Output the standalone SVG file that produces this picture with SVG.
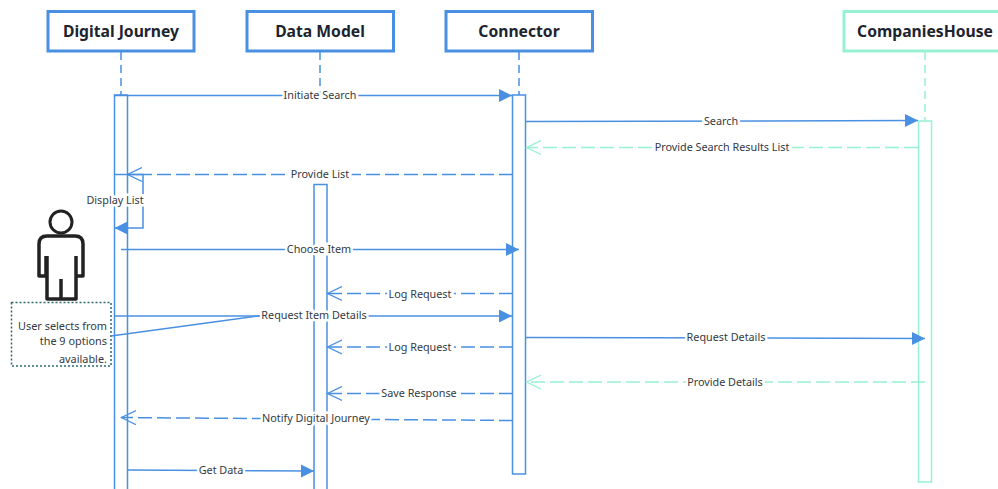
<svg xmlns="http://www.w3.org/2000/svg" width="998" height="489" viewBox="0 0 998 489">
<style>
.hb{fill:#fff;stroke:#4a90e2;stroke-width:3}
.hg{fill:#fff;stroke:#97f1d3;stroke-width:3}
.ht{font:bold 15.7px "Noto Sans","Open Sans","Liberation Sans",sans-serif;fill:#1c2430;text-anchor:middle}
.ll{fill:none;stroke:#4a90e2;stroke-width:1.5;stroke-dasharray:8 5}
.lg{fill:none;stroke:#97f1d3;stroke-width:1.5;stroke-dasharray:8 5}
.ab{fill:#fff;stroke:#4a90e2;stroke-width:1.5}
.ag{fill:#fff;stroke:#97f1d3;stroke-width:1.5}
.cs{fill:none;stroke:#4a90e2;stroke-width:1.5}
.cd{fill:none;stroke:#4a90e2;stroke-width:1.5;stroke-dasharray:14 5}
.cg{fill:none;stroke:#97f1d3;stroke-width:1.5;stroke-dasharray:14 5}
.f{marker-end:url(#fb)}
.o{marker-end:url(#ob)}
.og{marker-end:url(#og)}
.lb{font:10.8px "Noto Sans","Open Sans","Liberation Sans",sans-serif;fill:#333a44;text-anchor:middle;paint-order:stroke;stroke:#fff;stroke-width:5px}
.nt{font:10.9px "Noto Sans","Open Sans","Liberation Sans",sans-serif;fill:#333a44;text-anchor:end}
</style>
<defs>
<marker id="fb" markerUnits="userSpaceOnUse" markerWidth="14" markerHeight="14" refX="13" refY="7" orient="auto"><path d="M0 0.5L13 7L0 13.5Z" fill="#4a90e2"/></marker>
<marker id="ob" markerUnits="userSpaceOnUse" markerWidth="16" markerHeight="16" refX="15" refY="8" orient="auto"><path d="M0 1L14.500 8L0 15" fill="none" stroke="#4a90e2" stroke-width="1.3"/></marker>
<marker id="og" markerUnits="userSpaceOnUse" markerWidth="16" markerHeight="16" refX="15" refY="8" orient="auto"><path d="M0 1L14.500 8L0 15" fill="none" stroke="#97f1d3" stroke-width="1.3"/></marker>
</defs>
<rect width="998" height="489" fill="#fff"/>
<g id="node-digital-journey">
<path class="ll" d="M121 52V95"/>
<rect class="hb" x="48" y="11.500" width="146" height="39.500"/>
<text class="ht" x="121" y="37">Digital Journey</text>
<rect class="ab" x="114.500" y="95" width="13" height="396"/>
</g>
<g id="node-data-model">
<path class="ll" d="M320 52V95"/>
<rect class="hb" x="247" y="11.500" width="146.500" height="39.500"/>
<text class="ht" x="320" y="37">Data Model</text>
<rect class="ab" x="314" y="184.500" width="13" height="306"/>
</g>
<g id="node-connector">
<path class="ll" d="M519 52V95"/>
<rect class="hb" x="446" y="11.500" width="146.500" height="39.500"/>
<text class="ht" x="519" y="37">Connector</text>
<rect class="ab" x="512.500" y="95" width="13" height="379"/>
</g>
<g id="node-companies-house">
<path class="lg" d="M925 52V121"/>
<rect class="hg" x="844" y="11.500" width="160" height="39.500"/>
<text class="ht" x="925" y="37">CompaniesHouse</text>
<rect class="ag" x="918.500" y="121" width="13" height="361"/>
</g>
<g id="node-user">
<circle cx="61" cy="222" r="11" fill="#fff" stroke="#222" stroke-width="3"/>
<path d="M47 236H75Q83 236 83 244V276H76V256M76 256V299H47V256M46 256V276H39V244Q39 236 47 236M61 279V299" fill="#fff" stroke="#222" stroke-width="3.500" stroke-linejoin="round"/>
</g>
<g id="node-note">
<rect x="11.500" y="302.500" width="99.500" height="63.500" fill="#fff" stroke="#2f6b6b" stroke-width="1.500" stroke-dasharray="2 2"/>
<text class="nt" x="107" y="330">User selects from</text>
<text class="nt" x="107" y="345">the 9 options</text>
<text class="nt" x="107" y="363">available.</text>
</g>
<g id="connectors">
<path class="cs f" d="M114 95.500H512"/>
<path class="cs f" d="M526 121.500L918 120.500"/>
<path class="cg og" d="M918 147.500H526"/>
<path class="cd" d="M513 174.500H143"/>
<path class="cs o" d="M143 174.500H127"/>
<path class="cs" d="M127 174.500H114"/>
<path class="cs f" d="M127 174.500H143V228H114.500"/>
<path class="cs f" d="M121 249.500H519"/>
<path class="cd o" d="M513 293.500H327"/>
<path class="cs f" d="M114 316H512"/>
<path class="cs" d="M111 336L262 315.500"/>
<path class="cd o" d="M513 347H327"/>
<path class="cs f" d="M526 337.500L925 338.500"/>
<path class="cg og" d="M925 382H526"/>
<path class="cd o" d="M513 393.500H327"/>
<path class="cd o" d="M513 420.500L121 417.500"/>
<path class="cs f" d="M127 470L314 471"/>
<text class="lb" x="320" y="99">Initiate Search</text>
<text class="lb" x="721" y="125">Search</text>
<text class="lb" x="722" y="151">Provide Search Results List</text>
<text class="lb" x="320" y="178">Provide List</text>
<text class="lb" x="115" y="204">Display List</text>
<text class="lb" x="319" y="253">Choose Item</text>
<text class="lb" x="420" y="298">Log Request</text>
<text class="lb" x="314" y="319">Request Item Details</text>
<text class="lb" x="726" y="341">Request Details</text>
<text class="lb" x="420" y="351">Log Request</text>
<text class="lb" x="725" y="386">Provide Details</text>
<text class="lb" x="419" y="397">Save Response</text>
<text class="lb" x="316" y="422">Notify Digital Journey</text>
<text class="lb" x="221" y="474">Get Data</text>
</g>
</svg>
